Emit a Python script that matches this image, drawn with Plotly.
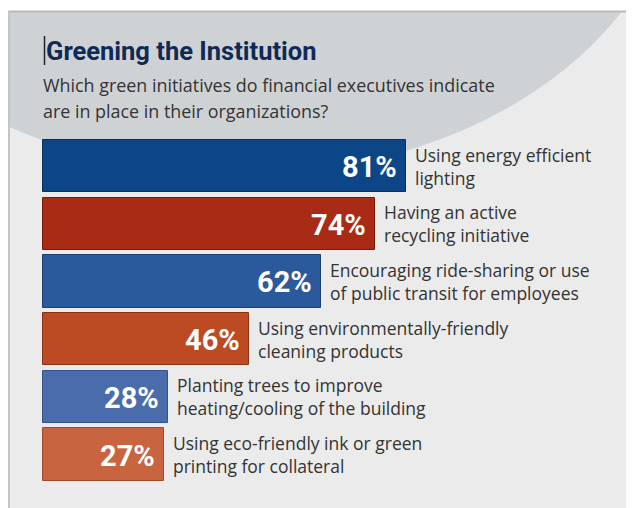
import plotly.graph_objects as go

# ---- data ----
categories = [
    "Using energy efficient<br>lighting",
    "Having an active<br>recycling initiative",
    "Encouraging ride-sharing or use<br>of public transit for employees",
    "Using environmentally-friendly<br>cleaning products",
    "Planting trees to improve<br>heating/cooling of the building",
    "Using eco-friendly ink or green<br>printing for collateral",
]
values = [81, 74, 62, 46, 28, 27]
title_text = "Greening the Institution"
subtitle_lines = [
    "Which green initiatives do financial executives indicate",
    "are in place in their organizations?",
]

# ---- styles ----
bar_colors = ["#0c4687", "#a92b15", "#2a5a9b", "#bc4a23", "#4b6cab", "#c8643f"]
bar_edges = ["#07305f", "#7c1a0a", "#1b3e6e", "#8a3214", "#34508a", "#a04a2c"]

W, H = 634, 508
OFF = 8  # page body margin
PX_PER_UNIT = 4.48
X0 = 43 - OFF
xr = [-X0 / PX_PER_UNIT, (W - X0) / PX_PER_UNIT]
first_c, pitch = 166.0 - OFF, 57.7
yr = [(H - first_c) / pitch, -first_c / pitch]

BOLD = "Roboto, Liberation Sans, Arial, sans-serif"
SANS = "Open Sans, Liberation Sans, Arial, sans-serif"


def px(x):
    return (x - OFF) / W


def py(y):
    return 1 - (y - OFF) / H


fig = go.Figure()
fig.add_trace(go.Bar(
    x=values, y=categories, orientation="h",
    marker=dict(color=bar_colors, line=dict(color=bar_edges, width=1)),
    width=0.905, hoverinfo="skip",
))

shapes = [
    dict(type="rect", xref="paper", yref="paper", x0=0, x1=1, y0=0, y1=1,
         fillcolor="#ebebeb", line=dict(width=0), layer="below"),
    dict(type="circle", xref="paper", yref="paper",
         x0=px(240 - 440), x1=px(240 + 440), y0=py(175), y1=py(-475),
         fillcolor="#cfd2d5", line=dict(width=0), layer="below"),
    dict(type="rect", xref="paper", yref="paper", x0=-0.5, x1=1.5, y0=py(11), y1=1.5,
         fillcolor="#ffffff", line=dict(width=0), layer="below"),
    dict(type="line", xref="paper", yref="paper", x0=0, x1=1, y0=py(11.5), y1=py(11.5),
         line=dict(color="#b9b9b9", width=2), layer="below"),
    dict(type="line", xref="paper", yref="paper", x0=px(9), x1=px(9), y0=0, y1=py(11),
         line=dict(color="#c4c4c4", width=2), layer="below"),
    dict(type="line", xref="paper", yref="paper", x0=px(44.5), x1=px(44.5), y0=py(36), y1=py(65),
         line=dict(color="#1a2438", width=1.5)),
]

annotations = []
annotations.append(dict(
    text=title_text, xref="paper", yref="paper", x=px(44), y=py(51),
    xanchor="left", yanchor="middle", showarrow=False,
    font=dict(family=BOLD, size=25.5, color="#0f2a55", weight="bold"),
))
for i, line in enumerate(subtitle_lines):
    annotations.append(dict(
        text=line, xref="paper", yref="paper", x=px(41), y=py(85 + 26.5 * i),
        xanchor="left", yanchor="middle", showarrow=False,
        font=dict(family=SANS, size=17.9, color="#333333"),
    ))

for cat, v in zip(categories, values):
    annotations.append(dict(
        text=f"{v}%", x=v, y=cat, xref="x", yref="y",
        xanchor="right", yanchor="middle", xshift=-7, yshift=-1, showarrow=False,
        font=dict(family=BOLD, size=29, color="#ffffff", weight="bold"),
    ))
    annotations.append(dict(
        text=cat, x=v, y=cat, xref="x", yref="y",
        xanchor="left", yanchor="middle", align="left", xshift=7, yshift=0,
        showarrow=False,
        font=dict(family=SANS, size=17.5, color="#333333"),
    ))

fig.update_layout(
    width=W, height=H, autosize=False,
    margin=dict(l=0, r=0, t=0, b=0, pad=0),
    paper_bgcolor="#ffffff", plot_bgcolor="rgba(0,0,0,0)",
    showlegend=False, bargap=0,
    xaxis=dict(range=xr, visible=False, fixedrange=True),
    yaxis=dict(type="category", categoryorder="array", categoryarray=categories,
               range=yr, visible=False, fixedrange=True),
    shapes=shapes, annotations=annotations,
)

fig.write_html("out.html")
